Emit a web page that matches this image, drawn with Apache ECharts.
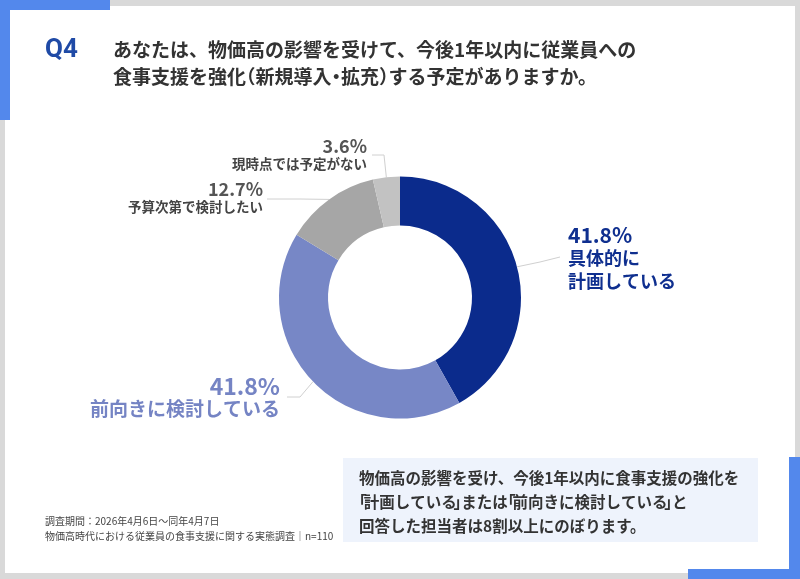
<!DOCTYPE html>
<html><head><meta charset="utf-8">
<script src="https://cdn.jsdelivr.net/npm/echarts@6/dist/echarts.min.js"></script>
<style>html,body{margin:0;padding:0;background:#d9d9d9;}#c{width:800px;height:579px;}</style>
</head><body><div id="c"></div>
<script>
const categories = ['具体的に計画している', '前向きに検討している', '予算次第で検討したい', '現時点では予定がない'];
const labelTextLines = [['具体的に', '計画している'], ['前向きに検討している'], ['予算次第で検討したい'], ['現時点では予定がない']];
const values = [41.8, 41.8, 12.7, 3.6];
const questionLines = ['あなたは、物価高の影響を受けて、今後1年以内に従業員への', '食事支援を強化（新規導入・拡充）する予定がありますか。'];
const noteLines = ['物価高の影響を受け、今後1年以内に食事支援の強化を', '「計画している」または「前向きに検討している」と', '回答した担当者は8割以上にのぼります。'];
const footLines = ['調査期間：2026年4月6日～同年4月7日', '物価高時代における従業員の食事支援に関する実態調査｜n=110'];

const FONT = '"Noto Sans CJK JP", "Noto Sans", sans-serif';
const sliceColors = ['#0b2b8c', '#7787c6', '#a6a6a6', '#c2c2c2'];
const labelColors = ['#0f2f8f', '#7584c4', '#555555', '#555555'];
const labelStyles = [
  {p: 21, n: 18, ph: 23, nh: 23, align: 'left', x: 568, y: 224},
  {p: 23, n: 19, ph: 22, nh: 23, align: 'right', x: 280, y: 375},
  {p: 18, n: 13.5, ph: 18, nh: 17, align: 'right', x: 263, y: 180},
  {p: 18, n: 13.5, ph: 18, nh: 17, align: 'right', x: 367, y: 137}
];
const lineBends = [
  [[540, 262], [560, 257]],
  [[300, 397], [287, 397]],
  [[300, 199], [267, 199]],
  [[384, 155], [372, 155]]
];

// half-width punctuation (約物詰め) via rich tokens with negative padding
const PUNCT = {'「': 'o', '（': 'o', '」': 'c', '）': 'c', '・': 'm'};
function tightRich(str, fs, weight, fill, adv) {
  let out = '', run = '';
  const flush = () => { if (run) { out += '{n|' + run + '}'; run = ''; } };
  for (const ch of str) {
    if (PUNCT[ch]) { flush(); out += '{' + PUNCT[ch] + '|' + ch + '}'; }
    else run += ch;
  }
  flush();
  const base = {fontSize: fs, fontWeight: weight, fontFamily: FONT, color: fill};
  const cut = 1 - adv;
  return {
    text: out,
    rich: {
      n: Object.assign({}, base),
      o: Object.assign({padding: [0, -Math.max(0, cut - 0.5) * fs, 0, -Math.min(0.5, cut) * fs]}, base),
      c: Object.assign({padding: [0, -Math.min(0.5, cut) * fs, 0, -Math.max(0, cut - 0.5) * fs]}, base),
      m: Object.assign({padding: [0, -cut / 2 * fs, 0, -cut / 2 * fs]}, base)
    }
  };
}

const chart = echarts.init(document.getElementById('c'), null, {renderer: 'canvas'});

const data = categories.map((name, i) => {
  const s = labelStyles[i];
  const nameColor = i >= 2 ? '#444444' : labelColors[i];
  return {
    name: name,
    value: values[i],
    itemStyle: {color: sliceColors[i]},
    label: {
      formatter: () => ['{p|' + values[i].toFixed(1) + '%}'].concat(labelTextLines[i].map(t => '{n|' + t + '}')).join('\n'),
      rich: {
        p: {fontSize: s.p, fontWeight: 'bold', color: labelColors[i], lineHeight: s.ph, align: s.align, fontFamily: FONT},
        n: {fontSize: s.n, fontWeight: 'bold', color: nameColor, lineHeight: s.nh, align: s.align, fontFamily: FONT}
      }
    }
  };
});

const graphics = [
  {type: 'rect', shape: {x: 5, y: 6, width: 790, height: 567}, style: {fill: '#ffffff'}, z: -10},
  {type: 'rect', shape: {x: 0, y: 0, width: 110, height: 10}, style: {fill: '#5388ec'}, z: -5},
  {type: 'rect', shape: {x: 0, y: 0, width: 10, height: 120}, style: {fill: '#5388ec'}, z: -5},
  {type: 'rect', shape: {x: 688, y: 569, width: 112, height: 10}, style: {fill: '#5388ec'}, z: -5},
  {type: 'rect', shape: {x: 789, y: 457, width: 11, height: 122}, style: {fill: '#5388ec'}, z: -5},
  {type: 'text', x: 45, y: 50, style: {text: 'Q4', font: 'bold 26px Roboto, "Noto Sans", sans-serif', fill: '#1f4aa6', textVerticalAlign: 'middle'}},
  {type: 'rect', shape: {x: 343, y: 458, width: 415, height: 84}, style: {fill: '#eef3fc'}, z: -4}
];
questionLines.forEach((t, i) => {
  const r = tightRich(t, 19, 'bold', '#333333', 0.5);
  graphics.push({type: 'text', x: 113, y: 50 + i * 27, style: {text: r.text, rich: r.rich, font: 'bold 19px ' + FONT, fill: '#333333', textVerticalAlign: 'middle'}});
});
noteLines.forEach((t, i) => {
  const r = tightRich(t, 15.5, 'bold', '#333333', 0.3);
  graphics.push({type: 'text', x: 359, y: 478 + i * 24, style: {text: r.text, rich: r.rich, font: 'bold 15.5px ' + FONT, fill: '#333333', textVerticalAlign: 'middle'}});
});
footLines.forEach((t, i) => graphics.push({type: 'text', x: 45, y: 521 + i * 15, style: {text: t, font: '10px ' + FONT, fill: '#444444', textVerticalAlign: 'middle'}}));

chart.setOption({
  animation: false,
  backgroundColor: '#d9d9d9',
  graphic: graphics,
  series: [{
    type: 'pie',
    center: [400, 297.5],
    radius: [72, 121],
    startAngle: 90,
    clockwise: true,
    avoidLabelOverlap: false,
    label: {show: true, position: 'outside'},
    labelLine: {show: true, length: 10, length2: 10, lineStyle: {color: '#d0d0d0', width: 1}},
    emphasis: {disabled: true},
    labelLayout: function (params) {
      const i = params.dataIndex;
      const s = labelStyles[i];
      const start = params.labelLinePoints ? params.labelLinePoints[0] : null;
      const out = {x: s.x, y: s.y, align: s.align, verticalAlign: 'top'};
      if (start) out.labelLinePoints = [start].concat(lineBends[i]);
      return out;
    },
    data: data
  }]
});
</script></body></html>
